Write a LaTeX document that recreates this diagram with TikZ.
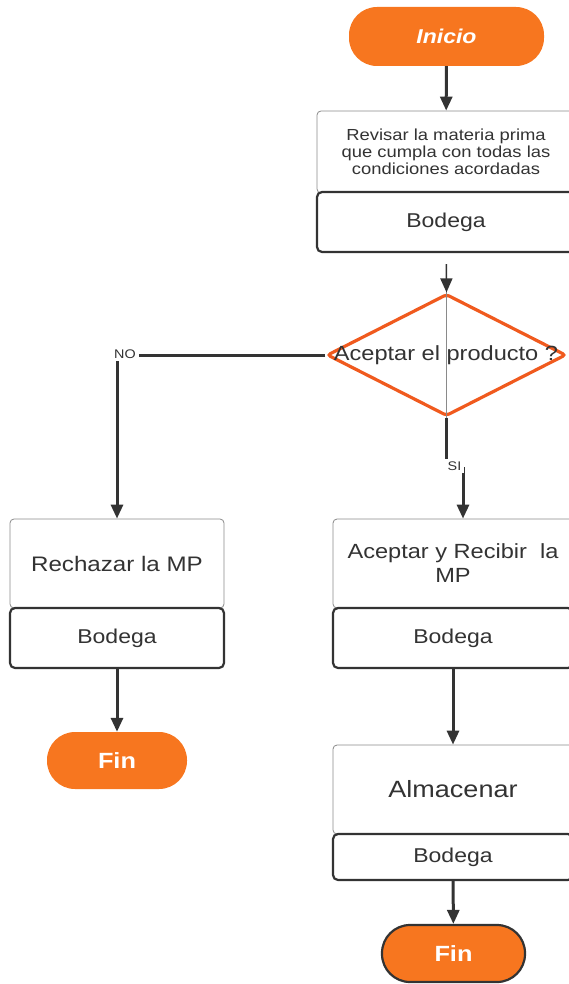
\documentclass[tikz,border=0pt]{standalone}
\usepackage{fontspec}
\setmainfont[FakeStretch=1.15]{Liberation Sans}
\usetikzlibrary{shapes.geometric,arrows.meta}
\definecolor{brand}{HTML}{F7761F}
\definecolor{decision}{HTML}{F05A1E}
\definecolor{ink}{HTML}{333333}
\definecolor{rim}{HTML}{8A8A8A}
\newcommand{\fsz}[1]{\fontsize{#1}{#1}\selectfont}
\begin{document}
\begin{tikzpicture}[x=1pt,y=-1pt,
  term/.style={fill=brand, rounded corners=28pt, inner sep=0pt, text=white,
    font=\fsz{22}\bfseries},
  taskbox/.style={draw=rim, line width=0.8pt, fill=white, rounded corners=4pt,
    inner sep=0pt, align=center, text=ink},
  lanebox/.style={draw=ink, line width=2.2pt, fill=white, rounded corners=5pt,
    inner sep=0pt, text=ink, font=\fsz{20}},
  flow/.style={draw=ink, line width=3pt, -{Triangle[length=14pt,width=12pt]}},
  tag/.style={fill=white, text=ink, inner sep=3pt, font=\fsz{12.5}}]
\useasboundingbox (0,0) rectangle (569,984);
\clip (0,0) rectangle (569,984);

% start
\node[term, minimum width=195pt, minimum height=59pt, font=\fsz{20}\bfseries\itshape]
  (ini) at (446.5,36.5) {Inicio};

% inspection of raw material
\node[taskbox, minimum width=258pt, minimum height=82pt, font=\fontsize{16}{17}\selectfont]
  (rev) at (446,152) {Revisar la materia prima\\que cumpla con todas las\\condiciones acordadas};
\node[lanebox, minimum width=258pt, minimum height=60pt] (revb) at (446,222) {Bodega};

% decision
\node[shape=diamond, draw=decision, line width=3.2pt, fill=white, minimum width=239pt,
  minimum height=122pt, inner sep=0pt, rounded corners=3pt] (dec) at (446.5,355) {};
\draw[rim, line width=0.7pt] (dec.north) -- (dec.south);
\node[text=ink, font=\fsz{20.5}, inner sep=0pt] (dectext) at (446,355) {Aceptar el producto ?};

% rejection branch
\node[taskbox, minimum width=214pt, minimum height=89pt, font=\fsz{21}]
  (rej) at (117,563.5) {Rechazar la MP};
\node[lanebox, minimum width=214pt, minimum height=60pt] (rejb) at (117,638) {Bodega};
\node[term, minimum width=140pt, minimum height=57pt] (finl) at (117,760.5) {Fin};

% acceptance branch
\node[taskbox, minimum width=240pt, minimum height=89pt, font=\fontsize{20.5}{24}\selectfont]
  (acc) at (453,563.5) {Aceptar y Recibir\ \ la\\MP};
\node[lanebox, minimum width=240pt, minimum height=60pt] (accb) at (453,638) {Bodega};
\node[taskbox, minimum width=240pt, minimum height=89pt, font=\fsz{23.5}]
  (alm) at (453,789.5) {Almacenar};
\node[lanebox, minimum width=240pt, minimum height=46pt] (almb) at (453,857) {Bodega};
\node[term, draw=ink, line width=2.2pt, minimum width=143pt, minimum height=57pt]
  (finr) at (453.5,953.5) {Fin};

% connectors
\coordinate (siin) at ([xshift=10pt]acc.north);
\draw[flow] (ini) -- (rev);
\draw[flow, line width=1.6pt, shorten <=11pt] (revb) -- (dec.north);
\draw[flow] (dec.west) -| (rej.north);
\node[tag] (no) at (125,354) {NO};
\draw[flow] (dec.south) -- ++(0,51) -| (siin);
\node[tag] (si) at (454.5,466) {SI};
\draw[flow] (rejb) -- (finl);
\draw[flow] (accb) -- (alm);
\draw[flow] (almb) -- (finr);
\end{tikzpicture}
\end{document}
